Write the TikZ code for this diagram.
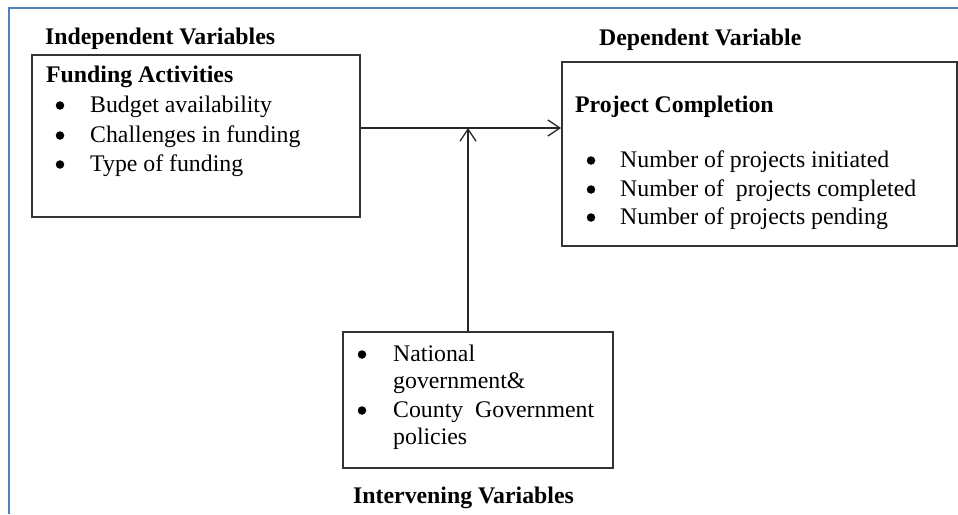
\documentclass[tikz,border=0pt]{standalone}
\usepackage{fontspec}
\setmainfont{Liberation Serif}
\usetikzlibrary{arrows.meta}
\begin{document}
\begin{tikzpicture}[x=1pt,y=-1pt,
  box/.style={draw=black!80, line width=1.6pt, anchor=north west, inner sep=0pt},
  txt/.style={anchor=base west, inner sep=0pt, font=\fontsize{23.8}{28}\selectfont},
  hd/.style={txt, font=\fontsize{23.8}{28}\selectfont\bfseries},
  bul/.style={circle, fill=black, inner sep=0pt, minimum size=8.5pt},
  conn/.style={line width=1.3pt, black!85, -{Straight Barb[length=12pt,width=16pt,line width=1.3pt]}}
]
\useasboundingbox (0,0) rectangle (958,514);
% outer blue frame (top and left)
\draw[line width=2pt, color={rgb,255:red,79;green,129;blue,189}] (9,514) -- (9,8) -- (958,8);

% boxes
\node[box, minimum width=328pt, minimum height=162pt] (fund) at (31,54) {};
\node[box, minimum width=395pt, minimum height=184pt] (proj) at (561,61) {};
\node[box, minimum width=270pt, minimum height=136pt] (interv) at (342,331) {};

% headings
\node[hd] (hInd) at (45,44) {Independent Variables};
\node[hd] (hDep) at (599,45) {Dependent Variable};
\node[hd] (hInt) at (353,503) {Intervening Variables};

% funding box content
\node[hd] (fa) at (46,82) {Funding Activities};
\node[bul] (b1) at (60,105.5) {};
\node[txt] (f1) at (90,112) {Budget availability};
\node[bul] (b2) at (60,135.5) {};
\node[txt] (f2) at (90,142) {Challenges in funding};
\node[bul] (b3) at (60,164.5) {};
\node[txt] (f3) at (90,171) {Type of funding};

% project box content
\node[hd] (pc) at (575,112) {Project Completion};
\node[bul] (b4) at (591,160.5) {};
\node[txt] (p1) at (620,167) {Number of projects initiated};
\node[bul] (b5) at (591,189.5) {};
\node[txt] (p2) at (620,196) {Number of \ projects completed};
\node[bul] (b6) at (591,217.5) {};
\node[txt] (p3) at (620,224) {Number of projects pending};

% intervening box content
\node[bul] (b7) at (362,354.5) {};
\node[txt] (i1) at (393,361) {National};
\node[txt] (i2) at (393,388) {government\&};
\node[bul] (b8) at (362,410.5) {};
\node[txt] (i3) at (393,417) {County\ \ Government};
\node[txt] (i4) at (393,444) {policies};

% connectors
\coordinate (j) at (468,128);
\draw[conn] (fund.east |- j) -- (proj.west |- j);
\draw[conn] (interv.north -| j) -- (j);
\end{tikzpicture}
\end{document}
